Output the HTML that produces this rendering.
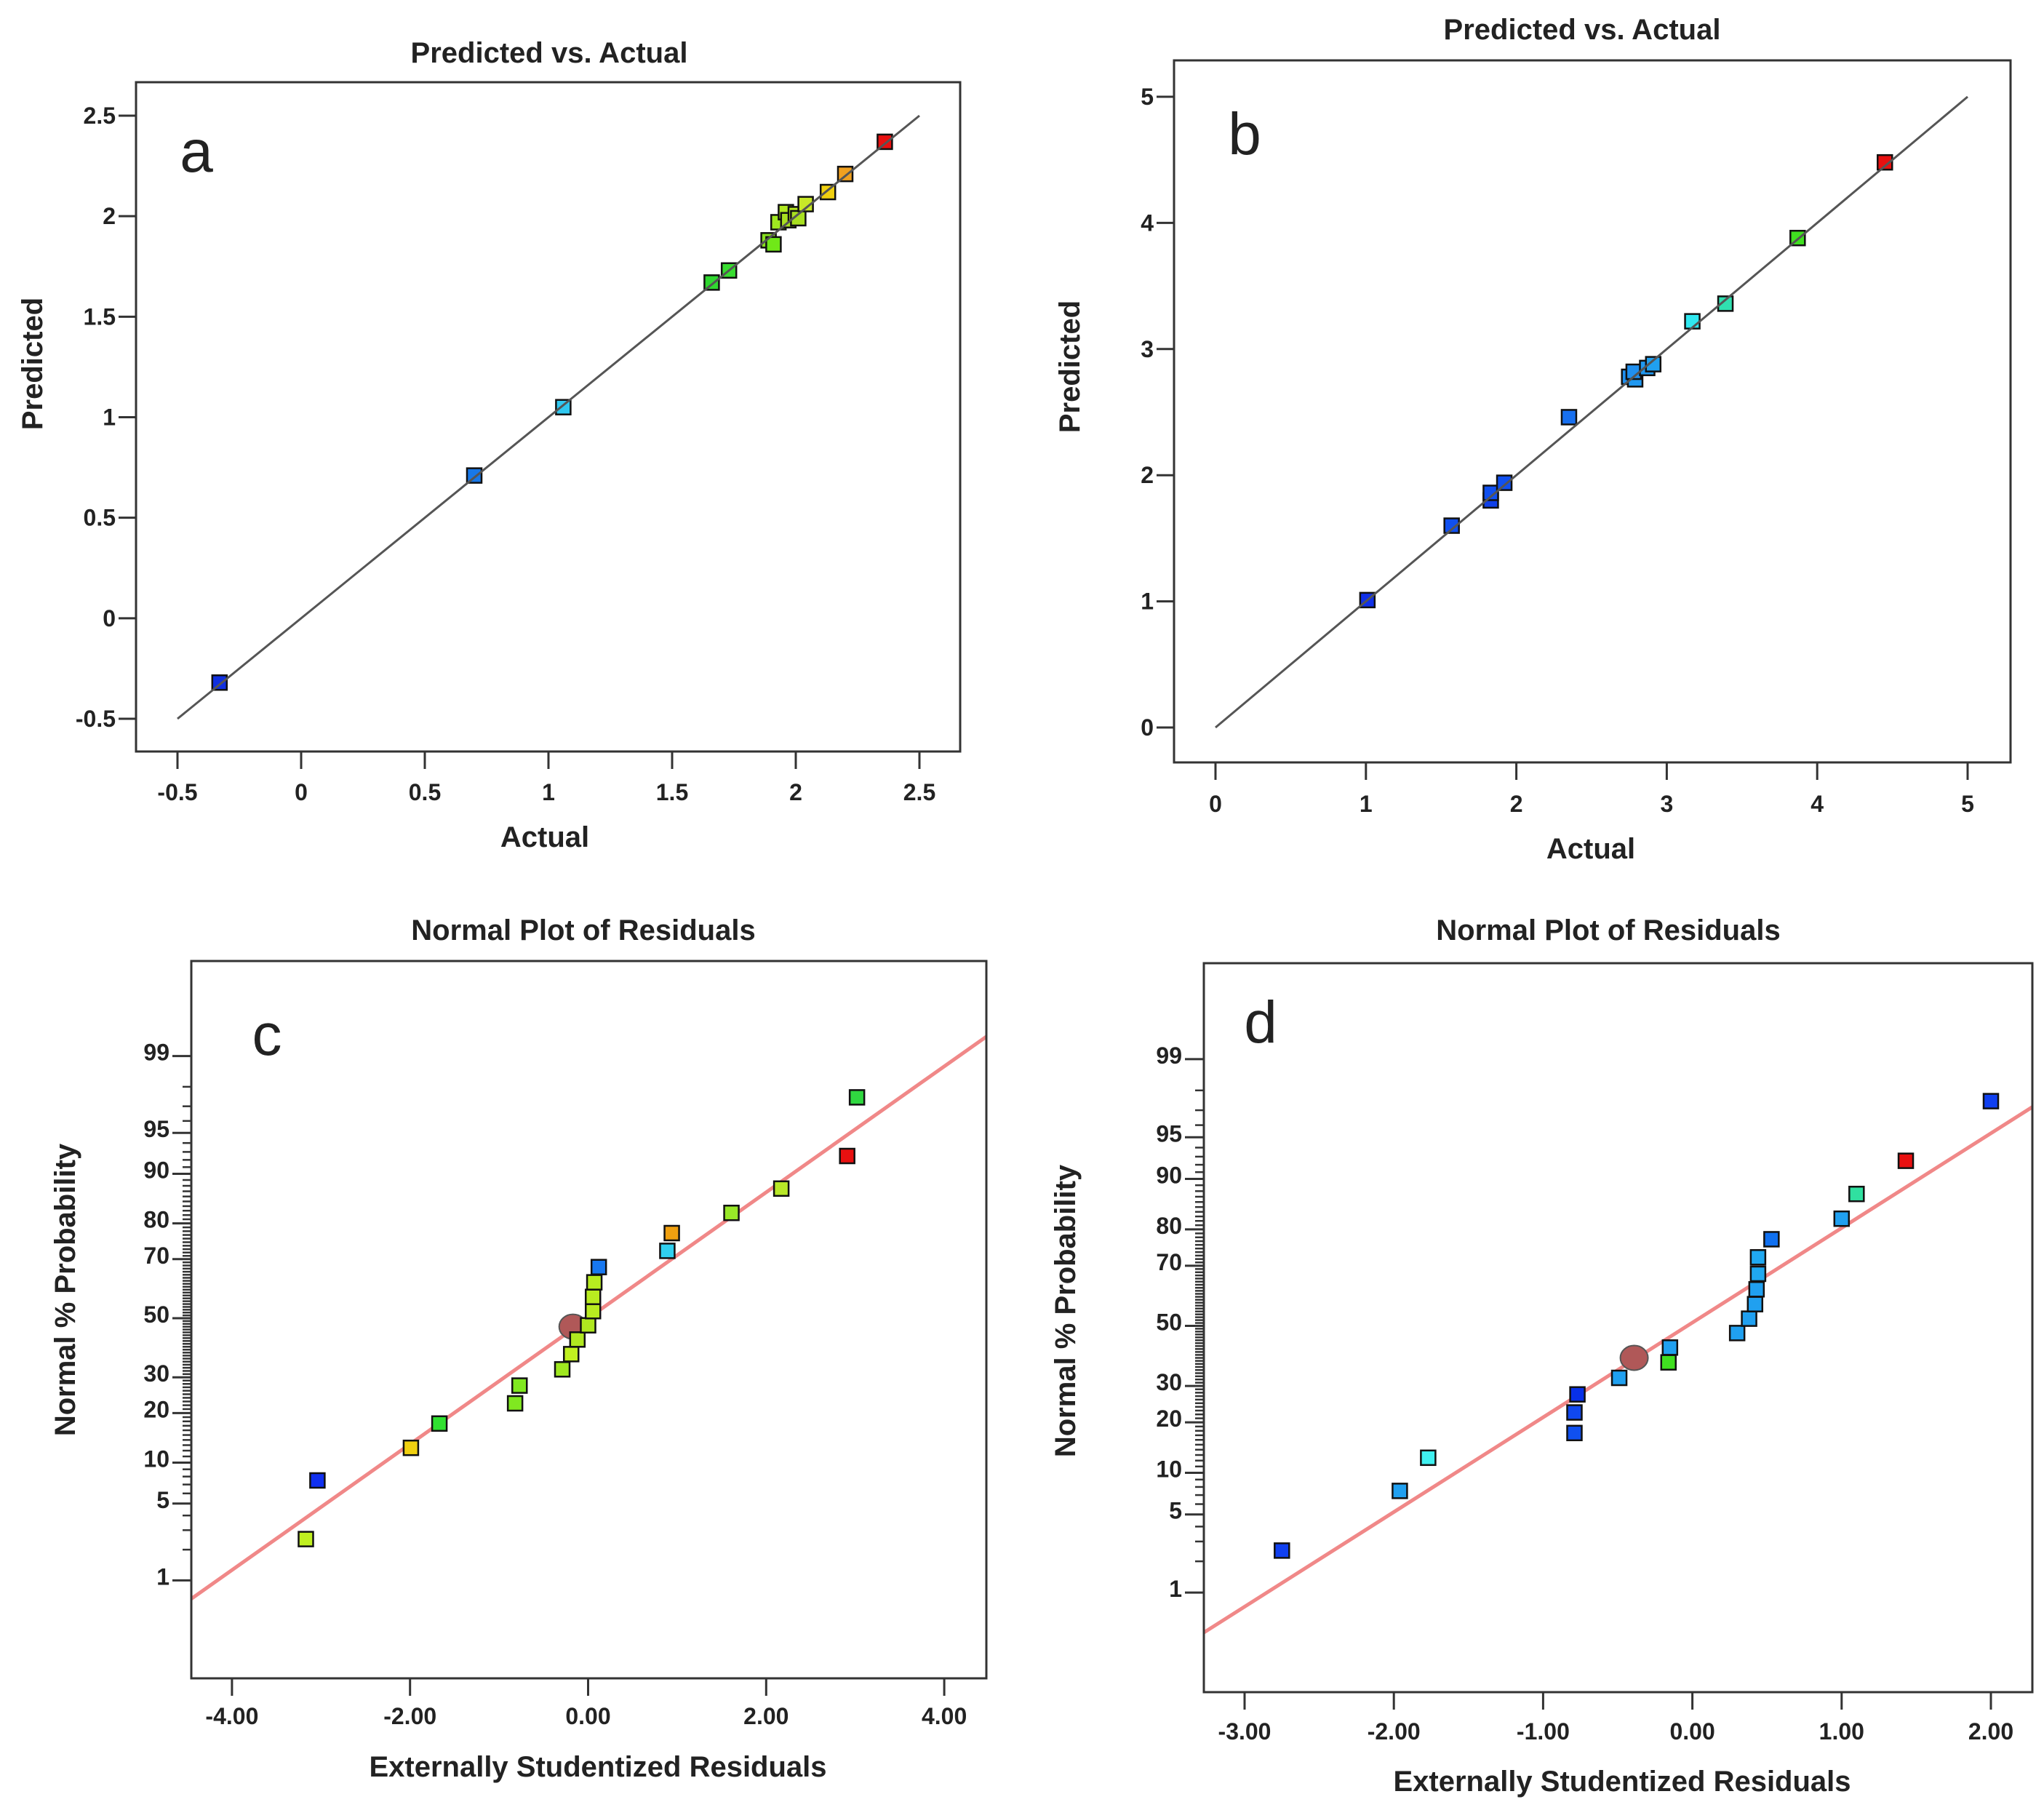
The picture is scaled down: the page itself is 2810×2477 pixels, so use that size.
<!DOCTYPE html>
<html><head><meta charset="utf-8"><style>
html,body{margin:0;padding:0;background:#fff}
svg{display:block}
text{font-family:"Liberation Sans",sans-serif;fill:#222}
</style></head><body>
<svg id="fig" width="2810" height="2477" viewBox="0 0 2810 2477" xmlns="http://www.w3.org/2000/svg"></svg>
<script>
// ---- Panel a data ----
const aActual    = [-0.33,0.70,1.06,1.66,1.73,1.89,1.91,1.93,1.96,1.97,2.00,2.01,2.04,2.13,2.20,2.36];
const aPredicted = [-0.32,0.71,1.05,1.67,1.73,1.88,1.86,1.97,2.02,1.98,2.01,1.99,2.06,2.12,2.21,2.37];
const aColors = ['#1030e0','#1878e8','#30c8f0','#30d830','#38dc30','#88e020','#70e818','#a0e820','#b0e820','#a8e020','#b8e820','#a8e020','#c8e828','#f0d010','#f0a020','#e81010'];
const aTicks = [-0.5,0,0.5,1,1.5,2,2.5];
const aTickLabels = ['-0.5','0','0.5','1','1.5','2','2.5'];
// ---- Panel b data ----
const bActual    = [1.01,1.57,1.83,1.83,1.92,2.35,2.75,2.79,2.78,2.87,2.91,3.17,3.39,3.87,4.45];
const bPredicted = [1.01,1.60,1.80,1.86,1.94,2.46,2.78,2.76,2.82,2.85,2.88,3.22,3.36,3.88,4.48];
const bColors = ['#1030e8','#1050f0','#1040e8','#1050f0','#1050f0','#1870f0','#2090f0','#2098f0','#2090f0','#2098f0','#20a0f0','#30e8f0','#30e0b0','#40e020','#e81010'];
const bTicks = [0,1,2,3,4,5];
const bTickLabels = ['0','1','2','3','4','5'];
// ---- Panel c data ----
const cResid = [-3.17,-3.04,-1.99,-1.67,-0.82,-0.77,-0.29,-0.19,-0.12,0.00,0.055,0.055,0.07,0.12,0.89,0.94,1.61,2.17,2.91,3.02];
const cProb  = [2.5,7.5,12.5,17.5,22.5,27.5,32.5,37.5,42.5,47.5,52.5,57.5,62.5,67.5,72.5,77.5,82.5,87.5,92.5,97.5];
const cColors = ['#c0f020','#1030f0','#f0d010','#30e030','#80e820','#80e820','#a0e820','#c0f020','#b0e820','#b0e820','#b8ec20','#b8ec20','#b8ec20','#1878f0','#30d0f0','#f0a010','#98e828','#b8e828','#e81010','#30d840'];
const cTicks = [-4,-2,0,2,4];
const cTickLabels = ['-4.00','-2.00','0.00','2.00','4.00'];
const cLineX = [-4.6,4.6];
const cLineZ = [-2.57,2.57];
const cCenter = [-0.17,47];
// ---- Panel d data ----
const dResid = [-2.75,-1.96,-1.77,-0.79,-0.79,-0.77,-0.49,-0.16,-0.15,0.30,0.38,0.42,0.43,0.44,0.44,0.53,1.00,1.10,1.43,2.00];
const dProb  = [2.5,7.5,12.5,17.5,22.5,27.5,32.5,37.5,42.5,47.5,52.5,57.5,62.5,67.5,72.5,77.5,82.5,87.5,92.5,97.5];
const dColors = ['#1040f0','#20a0f0','#40f0f0','#1050f0','#1048f0','#0830e8','#20a0f0','#40e020','#20a0f0','#20a0f0','#20a0f0','#20a0f0','#20a0f0','#20a8f0','#20a8f0','#1070f0','#20a0f0','#30e0a0','#e81010','#1040f0'];
const dTicks = [-3,-2,-1,0,1,2];
const dTickLabels = ['-3.00','-2.00','-1.00','0.00','1.00','2.00'];
const dLineX = [-3.4,2.4];
const dLineZ = [-2.78,2.01];
const dCenter = [-0.39,39];
const probTicks = [1,5,10,20,30,50,70,80,90,95,99];

const NS='http://www.w3.org/2000/svg';
const svg=document.getElementById('fig');
function el(tag,attrs,parent){const e=document.createElementNS(NS,tag);for(const k in attrs)e.setAttribute(k,attrs[k]);(parent||svg).appendChild(e);return e;}
function txt(s,x,y,size,anchor,weight,parent){const t=el('text',{x:x,y:y,'font-size':size,'text-anchor':anchor||'middle','font-weight':weight||'bold'},parent);t.textContent=s;return t;}
function probit(p){const a=[-39.69683028665376,220.9460984245205,-275.9285104469687,138.357751867269,-30.66479806614716,2.506628277459239],b=[-54.47609879822406,161.5858368580409,-155.6989798598866,66.80131188771972,-13.28068155288572],c=[-0.007784894002430293,-0.3223964580411365,-2.400758277161838,-2.549732539343734,4.374664141464968,2.938163982698783],d=[0.007784695709041462,0.3224671290700398,2.445134137142996,3.754408661907416];const pl=0.02425;let q,r;if(p<pl){q=Math.sqrt(-2*Math.log(p));return(((((c[0]*q+c[1])*q+c[2])*q+c[3])*q+c[4])*q+c[5])/((((d[0]*q+d[1])*q+d[2])*q+d[3])*q+1);}if(p>1-pl){q=Math.sqrt(-2*Math.log(1-p));return-(((((c[0]*q+c[1])*q+c[2])*q+c[3])*q+c[4])*q+c[5])/((((d[0]*q+d[1])*q+d[2])*q+d[3])*q+1);}q=p-0.5;r=q*q;return(((((a[0]*r+a[1])*r+a[2])*r+a[3])*r+a[4])*r+a[5])*q/(((((b[0]*r+b[1])*r+b[2])*r+b[3])*r+b[4])*r+1);}

function frame(g,box,name){const r=el('rect',{x:box.x0,y:box.y0,width:box.x1-box.x0,height:box.y1-box.y0,fill:'none',stroke:'#333','stroke-width':3},g);}
function marker(g,cx,cy,col,size,name){const s=size||20;const r=el('rect',{x:cx-s/2,y:cy-s/2,width:s,height:s,fill:col,stroke:'#111','stroke-width':2.5},g);}

function xTicks(g,box,ticks,labels,sx,labelY){ticks.forEach((t,i)=>{const x=sx(t);el('line',{x1:x,y1:box.y1,x2:x,y2:box.y1+24,stroke:'#333','stroke-width':3},g);const lt=txt(labels[i],x,labelY,32,'middle','bold',g);});}

function scatterPanel(o){
  const g=el('g',{});
  const sx=v=>o.px0+(v-o.v0)*(o.px1-o.px0)/(o.v1-o.v0);
  const sy=v=>o.py0+(v-o.v0)*(o.py1-o.py0)/(o.v1-o.v0);
  frame(g,o.box,'plot-frame');
  xTicks(g,o.box,o.ticks,o.labels,sx,o.xLabelY);
  o.ticks.forEach((t,i)=>{const y=sy(t);el('line',{x1:o.box.x0-24,y1:y,x2:o.box.x0,y2:y,stroke:'#333','stroke-width':3},g);const lt=txt(o.labels[i],o.box.x0-28,y+11,32,'end','bold',g);});
  o.xs.forEach((v,i)=>marker(g,sx(v),sy(o.ys[i]),o.colors[i],20,'data-point'));
  const ln=el('line',{x1:sx(o.v0),y1:sy(o.v0),x2:sx(o.v1),y2:sy(o.v1),stroke:'#555','stroke-width':3},g);
  
  const t=txt(o.title,o.titleX,o.titleY,40,'middle','bold',g);
  const xl=txt('Actual',o.titleX2,o.axisY,40,'middle','bold',g);
  const yl=txt('Predicted',0,0,40,'middle','bold',g);yl.setAttribute('transform',`translate(${o.ylX},${o.ylY}) rotate(-90)`);
  const pl=txt(o.letter,o.letterX,o.letterY,82,'middle','normal',g);
}
scatterPanel({name:'panel-a',box:{x0:187,y0:113,x1:1320,y1:1033},v0:-0.5,v1:2.5,px0:244,px1:1264,py0:988,py1:159,
  ticks:aTicks,labels:aTickLabels,xs:aActual,ys:aPredicted,colors:aColors,xLabelY:1100,title:'Predicted vs. Actual',titleX:755,titleY:86,titleX2:749,axisY:1164,ylX:58,ylY:500,letter:'a',letterX:270,letterY:236});
scatterPanel({name:'panel-b',box:{x0:1614,y0:83,x1:2764,y1:1048},v0:0,v1:5,px0:1671,px1:2705,py0:1000,py1:133,
  ticks:bTicks,labels:bTickLabels,xs:bActual,ys:bPredicted,colors:bColors,xLabelY:1116,title:'Predicted vs. Actual',titleX:2175,titleY:54,titleX2:2187,axisY:1180,ylX:1484,ylY:504,letter:'b',letterX:1711,letterY:212});

function normalPanel(o){
  const g=el('g',{});
  const sx=v=>o.xz+v*o.xu;
  const syz=z=>o.yc-z*o.yu;
  const sy=p=>syz(probit(p/100));
  for(let p=1;p<=99;p++){if(probTicks.includes(p))continue;const y=sy(p);el('line',{x1:o.box.x0-12,y1:y,x2:o.box.x0,y2:y,stroke:'#333','stroke-width':2.5},g);}
  probTicks.forEach(p=>{const y=sy(p);el('line',{x1:o.box.x0-26,y1:y,x2:o.box.x0,y2:y,stroke:'#333','stroke-width':3},g);const lt=txt(String(p),o.box.x0-30,y+6,32,'end','bold',g);});
  xTicks(g,o.box,o.ticks,o.labels,sx,o.xLabelY);
  const cid='clip-'+o.name;const cp=el('clipPath',{id:cid},g);el('rect',{x:o.box.x0,y:o.box.y0,width:o.box.x1-o.box.x0,height:o.box.y1-o.box.y0},cp);
  const ln=el('line',{x1:sx(o.lineX[0]),y1:syz(o.lineZ[0]),x2:sx(o.lineX[1]),y2:syz(o.lineZ[1]),stroke:'#f08888','stroke-width':5,'clip-path':`url(#${cid})`},g);
  
  const c=el('ellipse',{cx:sx(o.center[0]),cy:sy(o.center[1]),rx:19,ry:17,fill:'#b05858',stroke:'#555','stroke-width':2},g);
  
  o.xs.forEach((v,i)=>marker(g,sx(v),sy(o.ps[i]),o.colors[i],20,'residual-point'));
  frame(g,o.box,'plot-frame');
  const t=txt('Normal Plot of Residuals',o.titleX,o.titleY,40,'middle','bold',g);
  const xl=txt('Externally Studentized Residuals',o.titleX2,o.axisY,40,'middle','bold',g);
  const yl=txt('Normal % Probability',0,0,40,'middle','bold',g);yl.setAttribute('transform',`translate(${o.ylX},${o.ylY}) rotate(-90)`);
  const pl=txt(o.letter,o.letterX,o.letterY,82,'middle','normal',g);
}
normalPanel({name:'panel-c',box:{x0:263,y0:1321,x1:1356,y1:2307},xz:808.5,xu:122.4,yc:1812,yu:154.9,
  ticks:cTicks,labels:cTickLabels,xs:cResid,ps:cProb,colors:cColors,lineX:cLineX,lineZ:cLineZ,center:cCenter,
  xLabelY:2370,titleX:802,titleY:1292,titleX2:822,axisY:2442,ylX:103,ylY:1773,letter:'c',letterX:367,letterY:1450});
normalPanel({name:'panel-d',box:{x0:1655,y0:1324,x1:2794,y1:2326},xz:2326.6,xu:205.2,yc:1822.5,yu:157.6,
  ticks:dTicks,labels:dTickLabels,xs:dResid,ps:dProb,colors:dColors,lineX:dLineX,lineZ:dLineZ,center:dCenter,
  xLabelY:2391,titleX:2211,titleY:1292,titleX2:2230,axisY:2462,ylX:1478,ylY:1802,letter:'d',letterX:1733,letterY:1433});
</script>
</body></html>
